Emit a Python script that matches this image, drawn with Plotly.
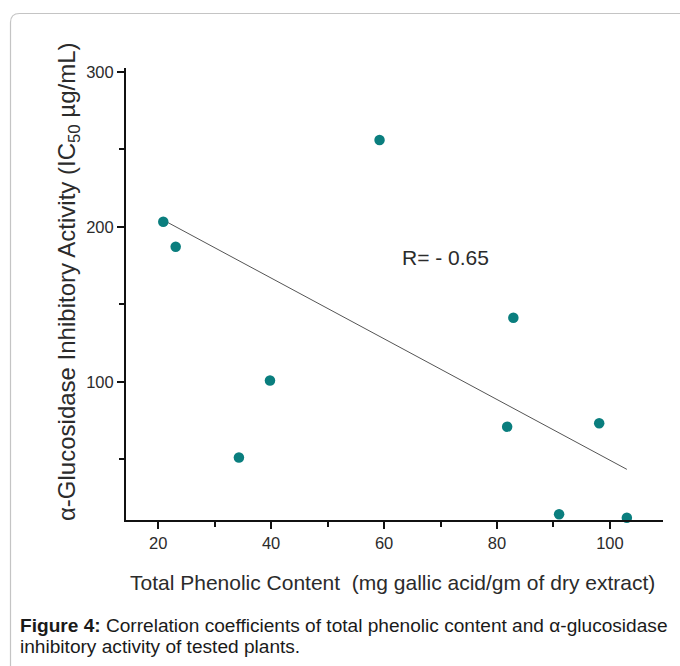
import numpy as np
import plotly.graph_objects as go

# ---- data ----
phenolic = [21.4, 20.9, 23.1, 59.2, 39.8, 34.3, 82.9, 81.8, 98.1, 91.0, 103.0]
ic50 = [303.2, 203.2, 187.1, 255.9, 100.8, 51.1, 141.3, 71.0, 73.2, 14.5, 12.3]
x_ticks = [20, 40, 60, 80, 100]
y_ticks = [100, 200, 300]
r_label = "R= - 0.65"
x_title = "Total Phenolic Content  (mg gallic acid/gm of dry extract)"
y_title = "α-Glucosidase Inhibitory Activity (IC<sub>50</sub> µg/mL)"
caption_bold = "Figure 4:"
caption_line1 = " Correlation coefficients of total phenolic content and α-glucosidase"
caption_line2 = "inhibitory activity of tested plants."

# ---- layout geometry ----
W, H = 680, 666
L, R, T, B = 126, 17, 68, 146
PW, PH = W - L - R, H - T - B
x_range = [14.3, 109.4]
y_range = [10.8, 302.4]


def px_x(p):
    return (p - L) / PW


def px_y(p):
    return (H - B - p) / PH


# least-squares regression line through the data
slope, intercept = np.polyfit(phenolic, ic50, 1)
x_fit = np.array([min(phenolic), max(phenolic)])
y_fit = intercept + slope * x_fit

FONT = "Liberation Sans, Arial, sans-serif"
TXT = "#2b2b2b"

fig = go.Figure()
fig.add_trace(go.Scatter(x=x_fit, y=y_fit, mode="lines",
                         line=dict(color="#555555", width=1),
                         hoverinfo="skip", showlegend=False))
fig.add_trace(go.Scatter(x=phenolic, y=ic50, mode="markers",
                         marker=dict(color="#0a7e7e", size=10.5),
                         cliponaxis=False, showlegend=False))

axis_common = dict(showgrid=False, zeroline=False, showline=True,
                   linecolor="#111111", linewidth=2, ticks="outside",
                   tickcolor="#111111", tickwidth=1.5, ticklen=7,
                   tickfont=dict(family=FONT, size=16.5, color=TXT))

fig.update_xaxes(range=x_range, tickvals=x_ticks, ticklabelstandoff=0,
                 minor=dict(dtick=10, tick0=0, ticks="outside", ticklen=5,
                            tickwidth=1.5, tickcolor="#111111"),
                 **axis_common)
fig.update_yaxes(range=y_range, tickvals=y_ticks,
                 minor=dict(dtick=50, tick0=0, ticks="outside", ticklen=5,
                            tickwidth=1.5, tickcolor="#111111"),
                 **axis_common)

annotations = [
    dict(x=70.8, y=180, xref="x", yref="y", text=r_label, showarrow=False,
         xanchor="center", yanchor="middle",
         font=dict(family=FONT, size=21, color=TXT)),
    dict(x=px_x(392), y=px_y(582), xref="paper", yref="paper", text=x_title,
         showarrow=False, xanchor="center", yanchor="middle",
         font=dict(family=FONT, size=21, color=TXT)),
    dict(x=px_x(68), y=px_y(282), xref="paper", yref="paper", text=y_title,
         showarrow=False, xanchor="center", yanchor="middle", textangle=-90,
         font=dict(family=FONT, size=24, color=TXT)),
    dict(x=px_x(18), y=px_y(625), xref="paper", yref="paper",
         text="<b>" + caption_bold + "</b>" + caption_line1,
         showarrow=False, xanchor="left", yanchor="middle", align="left",
         font=dict(family=FONT, size=19.1, color="#1a1a1a")),
    dict(x=px_x(18), y=px_y(646), xref="paper", yref="paper",
         text=caption_line2,
         showarrow=False, xanchor="left", yanchor="middle", align="left",
         font=dict(family=FONT, size=19.1, color="#1a1a1a")),
]

# rounded frame around the figure (decoration)
x0, y0, rad = px_x(10.5), px_y(13.5), 9
frame = (f"M {x0},{px_y(700)} L {x0},{px_y(13.5 + rad)} "
         f"Q {x0},{y0} {px_x(10.5 + rad)},{y0} L {px_x(700)},{y0}")

fig.update_layout(
    width=W, height=H,
    margin=dict(l=L, r=R, t=T, b=B, autoexpand=False),
    paper_bgcolor="white", plot_bgcolor="white",
    showlegend=False,
    annotations=annotations,
    shapes=[dict(type="path", path=frame, xref="paper", yref="paper",
                 line=dict(color="#c4c4c4", width=1.2), layer="below")],
)

fig.write_html("out.html")
